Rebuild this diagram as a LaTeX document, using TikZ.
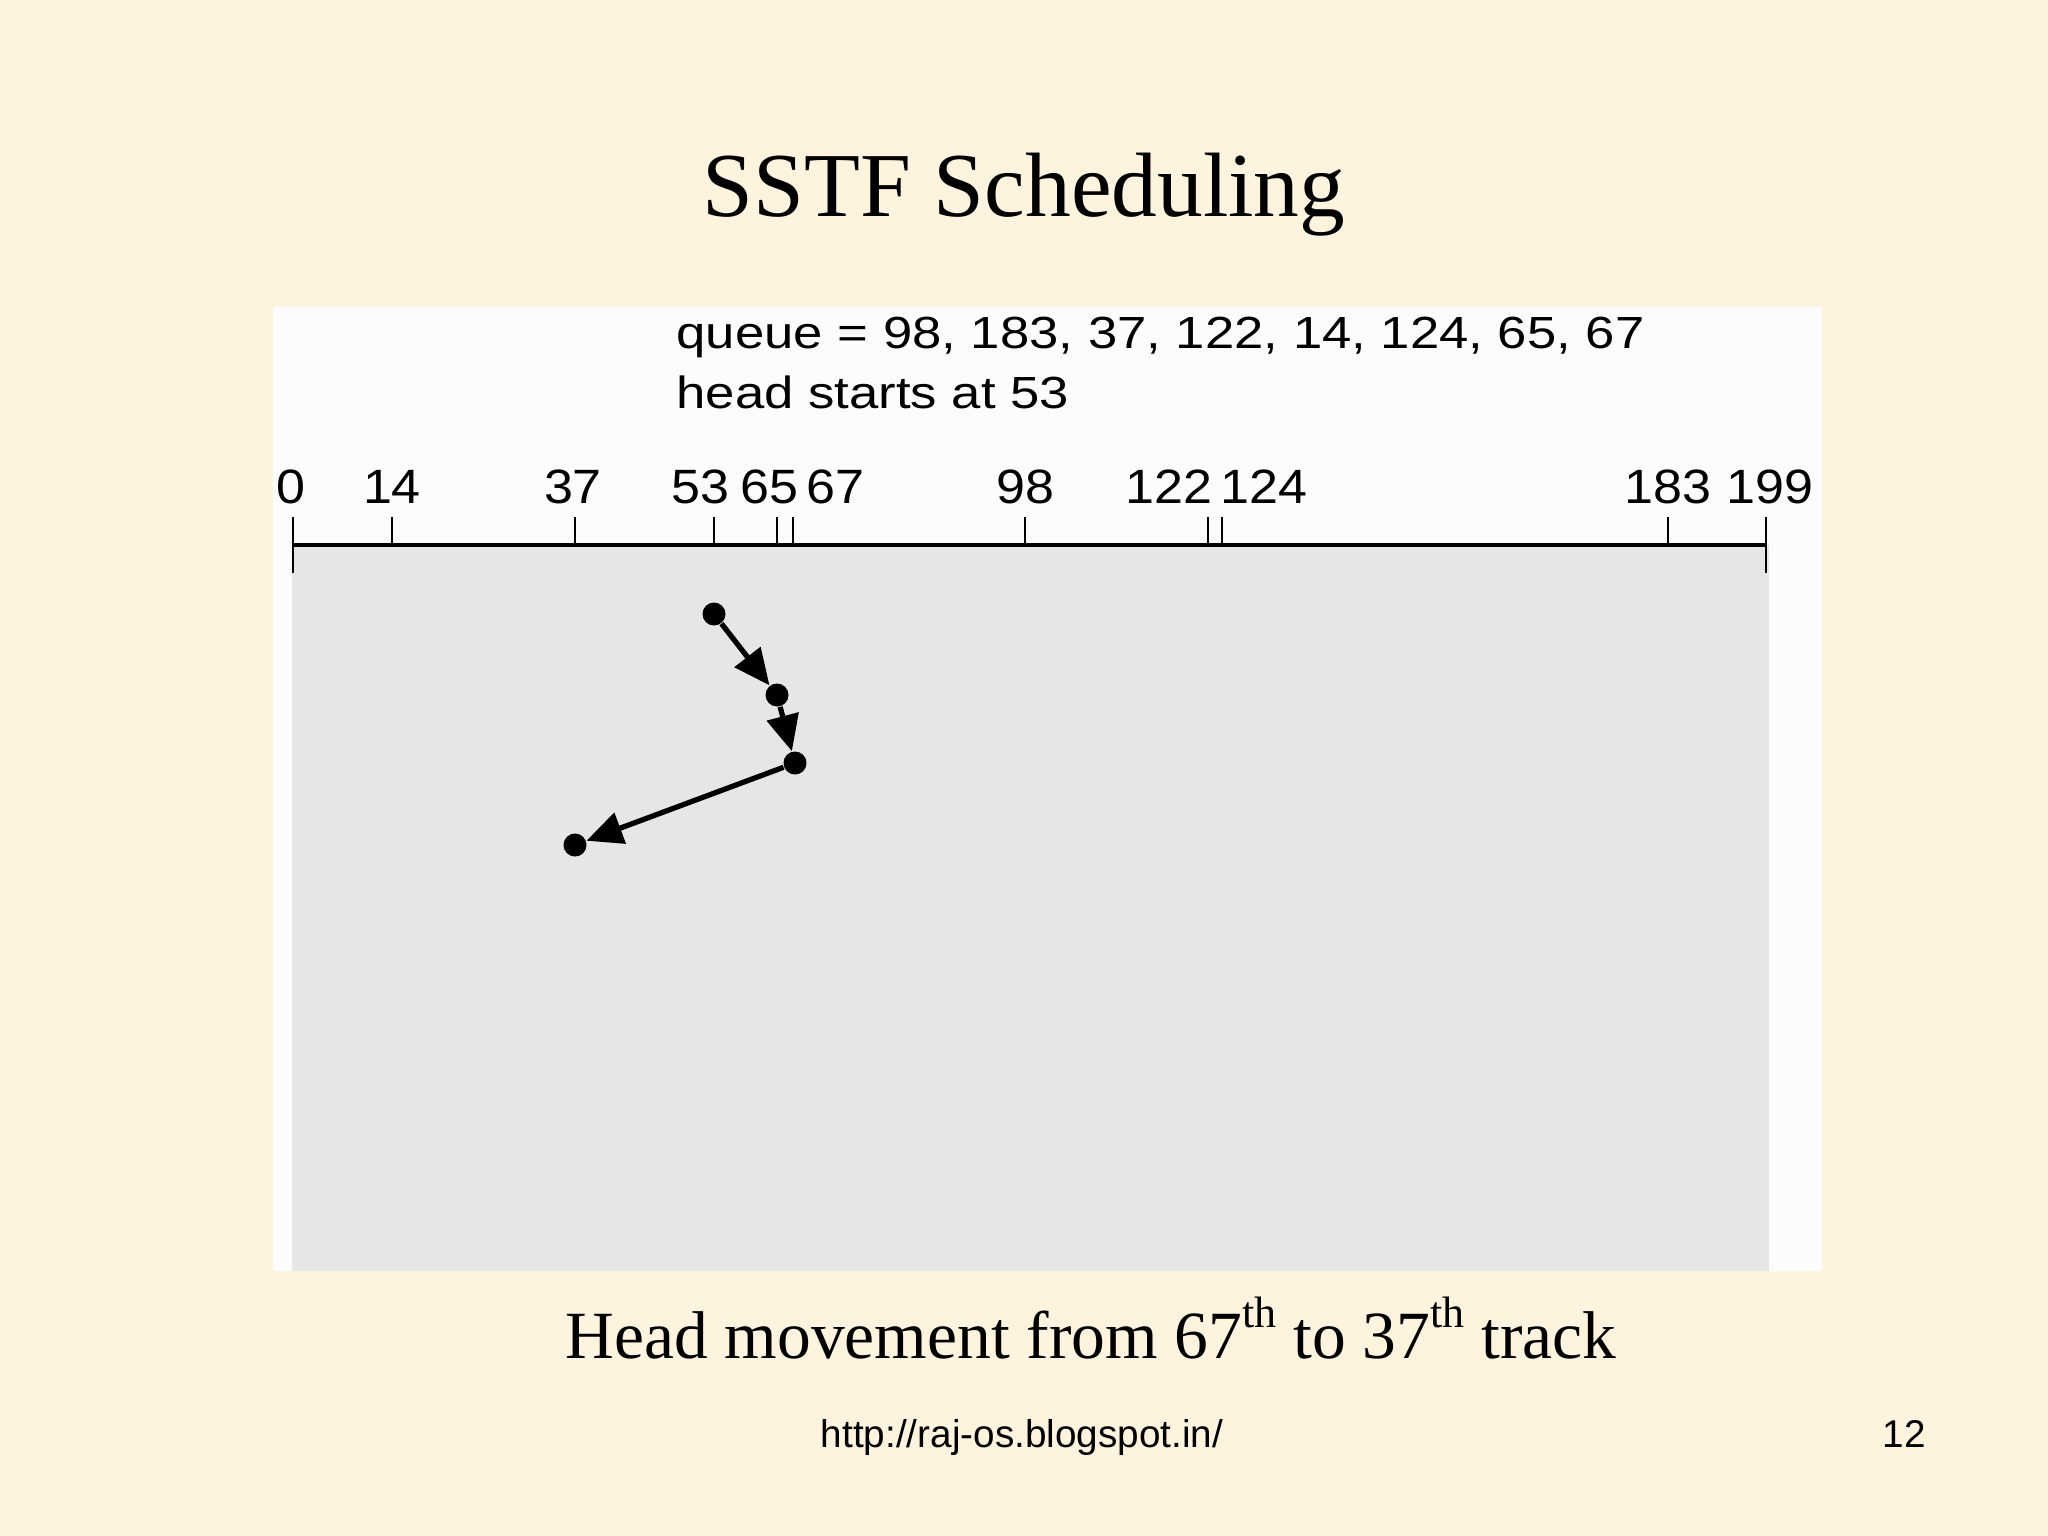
\documentclass[tikz,border=0pt]{standalone}
\usepackage{fontspec}
\setmainfont{Liberation Serif}
\setsansfont{Liberation Sans}
\usepackage{graphicx}
\usetikzlibrary{arrows.meta,positioning}
\definecolor{slidebg}{RGB}{253,243,222}
\definecolor{panelgray}{RGB}{230,230,229}

\begin{document}
\begin{tikzpicture}[x=0.01cm, y=0.01cm, every node/.style={inner sep=0pt},
	dot/.style={circle, fill=black, minimum size=0.23cm},
	move/.style={-{Triangle[length=0.36cm, width=0.32cm]}, line width=1.5pt},
	tickmark/.style={line width=0.7pt},
	ticklabel/.style={anchor=base, font=\sffamily\fontsize{13.7}{16}\selectfont}]
			\fill[slidebg] (0,0) rectangle (2048,-1536);
			\fill[white!99!black] (273,-307) rectangle (1822,-1271);
			\fill[panelgray] (292,-545) rectangle (1769,-1271);
			
			\node[anchor=base, font=\fontsize{26}{30}\selectfont] (title) at (1024,-216) {SSTF Scheduling};
			\node[anchor=base west, font=\sffamily\fontsize{12.8}{15}\selectfont] (queue) at (676,-348) {\scalebox{1.17}[1]{queue = 98, 183, 37, 122, 14, 124, 65, 67}};
			\node[below=0.6cm of queue.base west, anchor=base west, font=\sffamily\fontsize{12.8}{15}\selectfont] (start) {\scalebox{1.17}[1]{head starts at 53}};
			
			\draw[line width=1pt] (293,-545) -- (1766,-545);
			\draw[tickmark] (293,-545) -- (293,-573);
			\draw[tickmark] (1766,-545) -- (1766,-573);
			\foreach \t/\tx/\lx in {0/293/291, 14/392/392, 37/575/573, 53/714/700, 65/777/769, 67/793/835, 98/1025/1025, 122/1208/1169, 124/1222/1264, 183/1668/1668, 199/1766/1770} {
				\draw[tickmark] (\tx,-517) -- (\tx,-545);
				\node[ticklabel] (lab\t) at (\lx,-503) {\scalebox{1.08}[1]{\t}};
			}
			
			\node[dot] (h53) at (714,-614) {};
			\node[dot] (h65) at (777,-695) {};
			\node[dot] (h67) at (795,-763) {};
			\node[dot] (h37) at (575,-845) {};
			\draw[move] (h53) -- (h65);
			\draw[move] (h65) -- (h67);
			\draw[move] (h67) -- (h37);
			
			\node[anchor=base, font=\fontsize{19.2}{23}\selectfont] (caption) at (1091,-1358) {Head movement from 67\raisebox{0.45em}{\fontsize{12.5}{14}\selectfont th} to 37\raisebox{0.45em}{\fontsize{12.5}{14}\selectfont th} track};
			\node[anchor=base, font=\sffamily\fontsize{11}{13}\selectfont] (url) at (1022,-1447) {http://raj-os.blogspot.in/};
			\node[anchor=base, font=\sffamily\fontsize{11}{13}\selectfont] (pagenum) at (1904,-1447) {12};
		\end{tikzpicture}
\end{document}
